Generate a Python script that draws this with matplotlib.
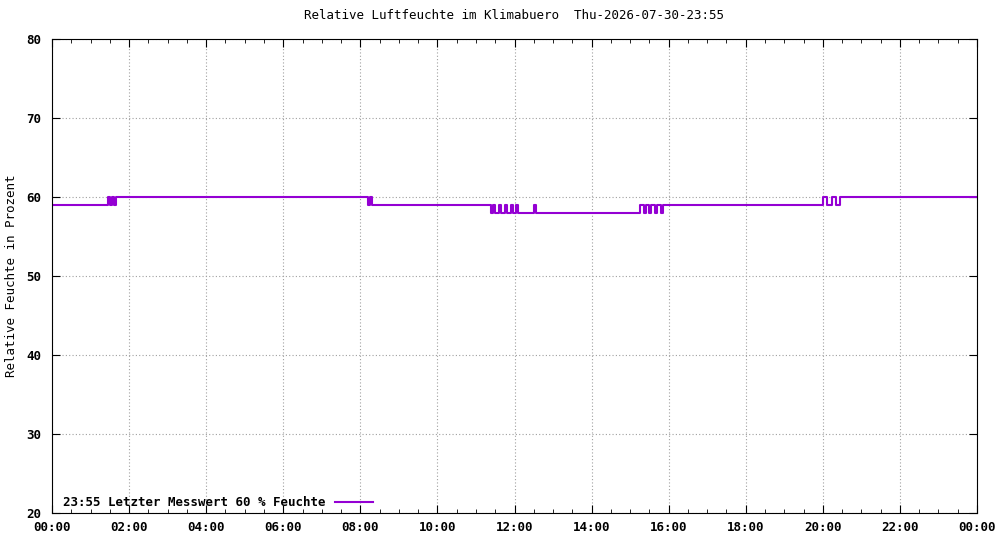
import matplotlib
matplotlib.use("Agg")
import matplotlib.pyplot as plt
from matplotlib.ticker import MultipleLocator

times = [0, 1.45, 1.5, 1.55, 1.6, 1.65, 8.2, 8.25, 8.3,
         11.4, 11.45, 11.5, 11.6, 11.65, 11.75, 11.8, 11.9, 11.95, 12.05, 12.1, 12.5, 12.55,
         15.25, 15.35, 15.4, 15.5, 15.55, 15.65, 15.7, 15.8, 15.85,
         20.0, 20.1, 20.25, 20.35, 20.45, 20.55, 24.0]
values = [59, 60, 59, 60, 59, 60, 59, 60, 59,
          58, 59, 58, 59, 58, 59, 58, 59, 58, 59, 58, 59, 58,
          59, 58, 59, 58, 59, 58, 59, 58, 59,
          60, 59, 60, 59, 60, 60, 60]
xticklabels = ["00:00", "02:00", "04:00", "06:00", "08:00", "10:00", "12:00",
               "14:00", "16:00", "18:00", "20:00", "22:00", "00:00"]

plt.rcParams['font.family'] = ['DejaVu Sans Mono']
plt.rcParams['font.size'] = 9
plt.rcParams['font.weight'] = 'bold'

fig = plt.figure(figsize=(10, 5.4), dpi=100)
ax = fig.add_axes([0.052, 0.050, 0.925, 0.878])
ax.step(times, values, where='post', color='#9400D3', lw=1.5,
        label='23:55 Letzter Messwert 60 % Feuchte')
ax.set_xlim(0, 24)
ax.set_ylim(20, 80)
ax.set_xticks(range(0, 25, 2))
ax.set_xticklabels(xticklabels)
ax.xaxis.set_minor_locator(MultipleLocator(0.5))
ax.yaxis.set_major_locator(MultipleLocator(10))
ax.tick_params(which='both', direction='in', top=True, right=True)
ax.tick_params(which='major', length=6)
ax.tick_params(which='minor', length=3)
ax.tick_params(axis='y', pad=8)
ax.tick_params(axis='x', pad=6)
ax.grid(True, which='major', color='#a0a0a0', linestyle=(0, (1, 2)), lw=0.8)
ax.set_ylabel('Relative Feuchte in Prozent', labelpad=6)
ax.set_title('Relative Luftfeuchte im Klimabuero  Thu-2026-07-30-23:55', fontsize=9, pad=14)
leg = ax.legend(loc='lower left', frameon=False, markerfirst=False, handlelength=3,
                borderaxespad=0.1, bbox_to_anchor=(0.005, -0.005))
fig.savefig('out.png')
